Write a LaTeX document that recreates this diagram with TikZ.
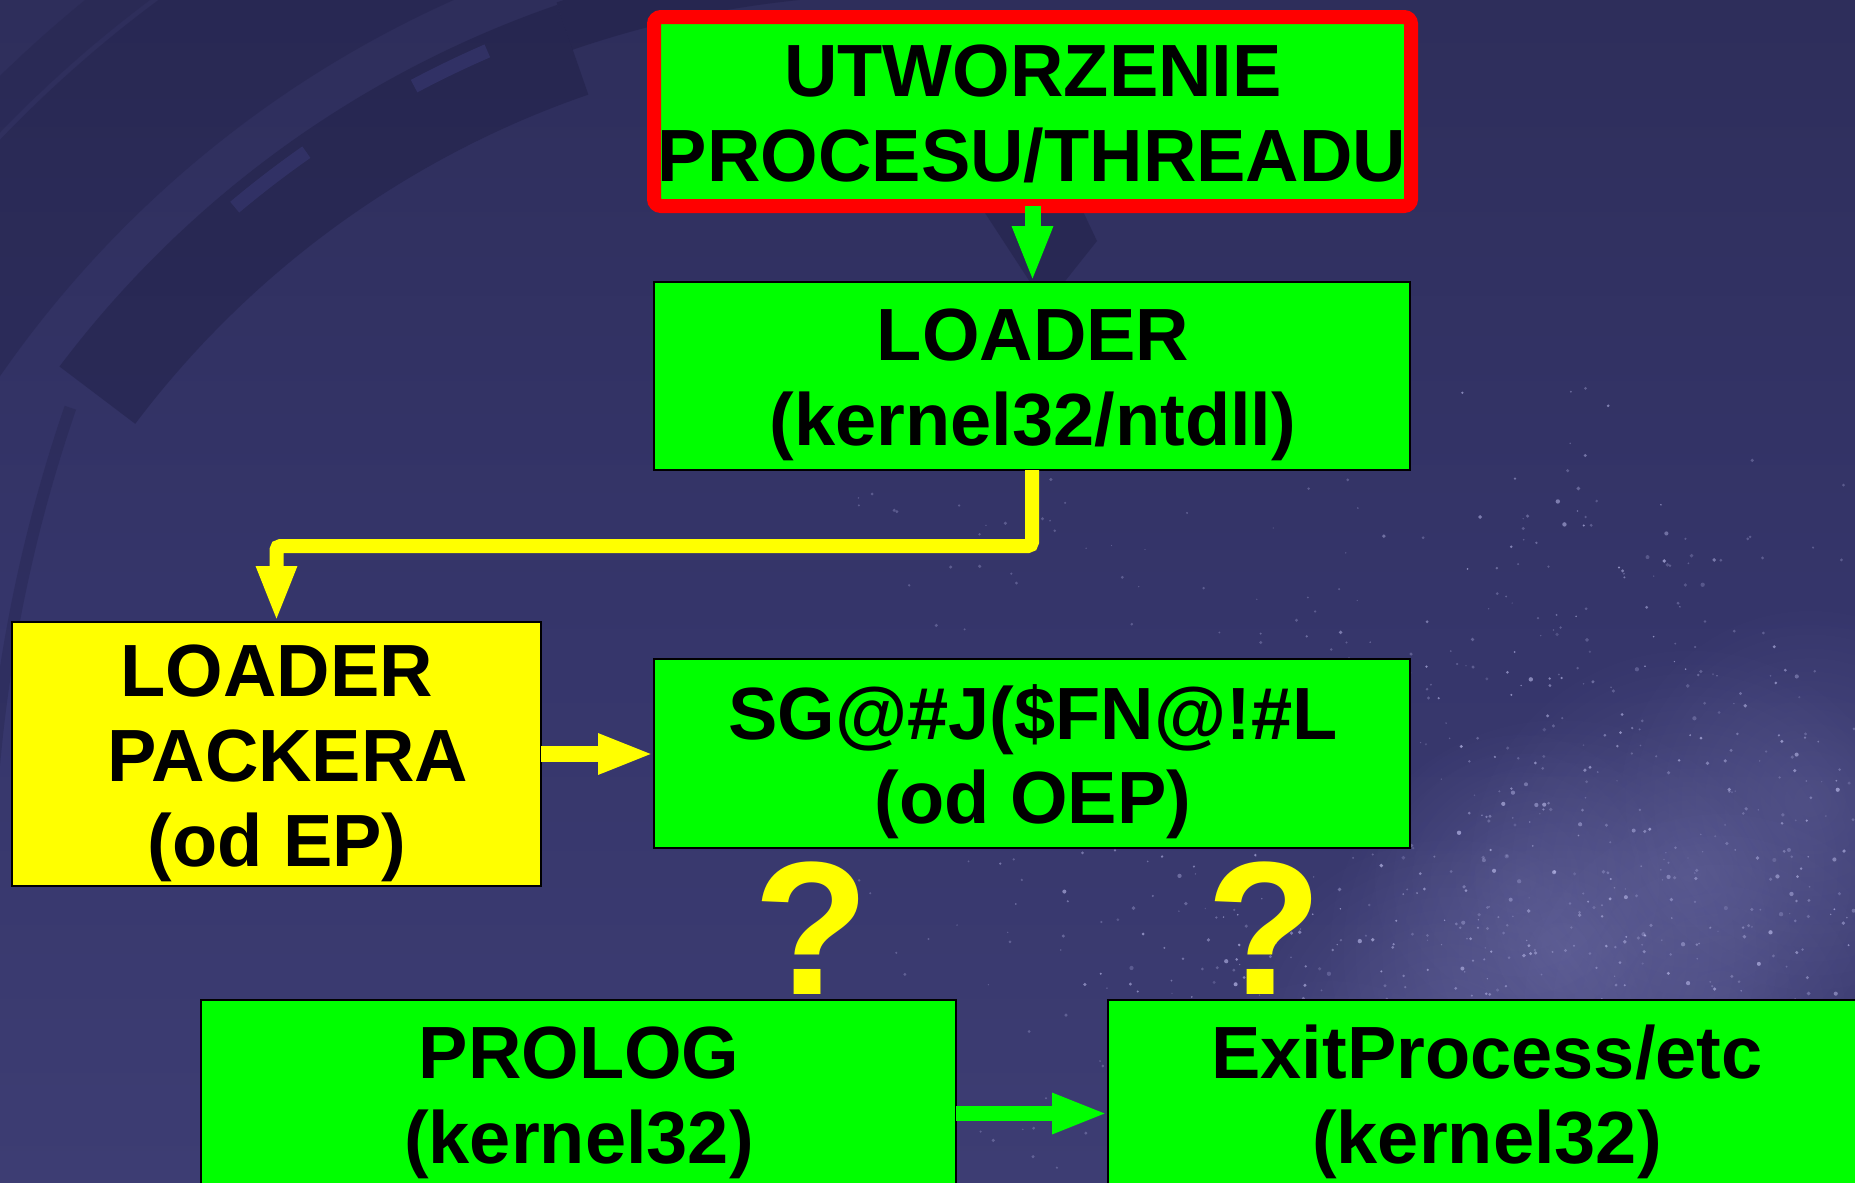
\documentclass[tikz,border=0pt]{standalone}
\usepackage{fontspec}
\setmainfont{Liberation Sans}
\usetikzlibrary{arrows.meta,calc,fadings}
\tikzfading[name=softglow, inner color=transparent!0, outer color=transparent!100]
\definecolor{bgtop}{HTML}{2E2E5B}
\definecolor{bgmid}{HTML}{35356A}
\definecolor{bgbot}{HTML}{3D3D73}
\definecolor{arcdark}{HTML}{1C1C40}
\definecolor{bgslot}{HTML}{34346A}
\definecolor{starcol}{HTML}{B8B8E8}
\definecolor{glow}{HTML}{9A9AD4}
\definecolor{boxgreen}{HTML}{00FF00}
\definecolor{boxyellow}{HTML}{FFFF00}
\definecolor{framered}{HTML}{FF0000}
\tikzset{
  box/.style={draw=black, line width=1.5pt, inner sep=0pt, outer sep=0pt},
  gbox/.style={box, fill=boxgreen},
  ybox/.style={box, fill=boxyellow},
  txt/.style={font=\fontsize{74}{85}\selectfont\bfseries, text=black, inner sep=0pt, anchor=base},
  qmark/.style={font=\fontsize{190}{190}\selectfont\bfseries, text=boxyellow, inner sep=0pt, anchor=base},
  garrow/.style={draw=boxgreen, line width=16pt, -{Triangle[width=37pt,length=56pt]}},
  yarrow/.style={draw=boxyellow, line width=16pt, -{Triangle[width=37pt,length=56pt]}},
}
\begin{document}
\begin{tikzpicture}[x=1pt,y=-1pt]
\useasboundingbox (0,0) rectangle (1855,1183);
% background
\shade[top color=bgtop, bottom color=bgbot, middle color=bgmid] (0,0) rectangle (1855,1183);
\begin{scope}
\clip (0,0) rectangle (1855,1183);
\coordinate (C) at (900,1000);
% decorative arcs (top left)
\draw[arcdark, opacity=0.40, line width=95pt] ($(C)+(217:1005)$) arc[start angle=217, end angle=251, radius=1005];
\draw[arcdark, opacity=0.40, line width=50pt] ($(C)+(251:1030)$) arc[start angle=251, end angle=266, radius=1030];
\draw[bgslot, opacity=0.8, line width=14pt] ($(C)+(242:1035)$) arc[start angle=242, end angle=246.5, radius=1035];
\draw[bgslot, opacity=0.8, line width=14pt] ($(C)+(230:1035)$) arc[start angle=230, end angle=235, radius=1035];
\draw[arcdark, opacity=0.28, line width=150pt] ($(C)+(203:1170)$) arc[start angle=203, end angle=252, radius=1170];
\draw[arcdark, opacity=0.22, line width=40pt] ($(C)+(214:1270)$) arc[start angle=214, end angle=240, radius=1270];
\draw[arcdark, opacity=0.25, line width=12pt] (1500,900) ++(185:1512) arc[start angle=185, end angle=199, radius=1512];
\fill[arcdark, opacity=0.40] (985,213) -- (1080,205) -- (1097,241) -- (1058,290) -- (1030,282) -- cycle;
% milky way glow
\foreach \cx/\cy/\r/\op in {1330/1160/190/0.16, 1450/1050/220/0.20, 1560/950/240/0.22, 1690/870/230/0.20, 1810/800/200/0.17, 1520/880/160/0.10, 1720/1010/220/0.12} {
  \fill[glow, opacity=\op, path fading=softglow] (\cx,\cy) circle[radius=\r];
}
% stars
\pgfmathsetseed{4242}
\foreach \i in {1,...,900} {
  \pgfmathsetmacro{\t}{rnd}
  \pgfmathsetmacro{\u}{(rnd+rnd+rnd-1.5)*2}
  \pgfmathsetmacro{\sx}{1220+640*\t+120*\u}
  \pgfmathsetmacro{\sy}{1200-440*\t+170*\u}
  \pgfmathsetmacro{\sr}{0.7+1.5*rnd}
  \pgfmathsetmacro{\so}{0.2+0.5*rnd}
  \fill[starcol, opacity=\so] (\sx,\sy) circle[radius=\sr];
}
\foreach \i in {1,...,300} {
  \pgfmathsetmacro{\sx}{850+1005*rnd}
  \pgfmathsetmacro{\sy}{450+733*rnd}
  \pgfmathsetmacro{\sr}{0.6+1.2*rnd}
  \fill[starcol, opacity=0.3] (\sx,\sy) circle[radius=\sr];
}
\end{scope}

% boxes
\node[gbox, draw=framered, line width=14pt, rounded corners=7pt, minimum width=757pt, minimum height=189pt] (top) at (1032.5,111.5) {};
\node[gbox, minimum width=756pt, minimum height=188pt] (loader) at (1032,376) {};
\node[ybox, minimum width=529pt, minimum height=264pt] (packer) at (276.5,754) {};
\node[gbox, minimum width=756pt, minimum height=189pt] (sg) at (1032,753.5) {};
\node[gbox, minimum width=755pt, minimum height=189pt] (prolog) at (578.5,1094.5) {};
\node[gbox, minimum width=756pt, minimum height=189pt] (exit) at (1486,1094.5) {};

% texts
\node[txt] (top1) at (1033,96) {UTWORZENIE};
\node[txt] (top2) at (1032,181) {PROCESU/THREADU};
\node[txt] (ld1) at (1033,360) {LOADER};
\node[txt] (ld2) at (1033,445) {(kernel32/ntdll)};
\node[txt] (pk1) at (277,696) {LOADER};
\node[txt] (pk2) at (288,781) {PACKERA};
\node[txt] (pk3) at (277,866) {(od EP)};
\node[txt] (sg1) at (1033,739) {SG@\#J(\$FN@!\#L};
\node[txt] (sg2) at (1033,823) {(od OEP)};
\node[txt] (pr1) at (579,1078) {PROLOG};
\node[txt] (pr2) at (579,1163) {(kernel32)};
\node[txt] (ex1) at (1487,1078) {ExitProcess/etc};
\node[txt] (ex2) at (1487,1163) {(kernel32)};

% question marks
\node[qmark] (q1) at (812,994) {?};
\node[qmark] (q2) at (1265,994) {?};

% connectors
\draw[garrow] (top.south) -- (top.south |- loader.north);
\draw[yarrow, line width=14pt, rounded corners=4pt] (loader.south) -- ++(0,76) -| (packer.north);
\draw[yarrow] (packer.east) -- (packer.east -| sg.west);
\draw[garrow, line width=15pt] ($(prolog.east)+(0,19)$) -- ($(exit.west)+(0,19)$);
\end{tikzpicture}
\end{document}
